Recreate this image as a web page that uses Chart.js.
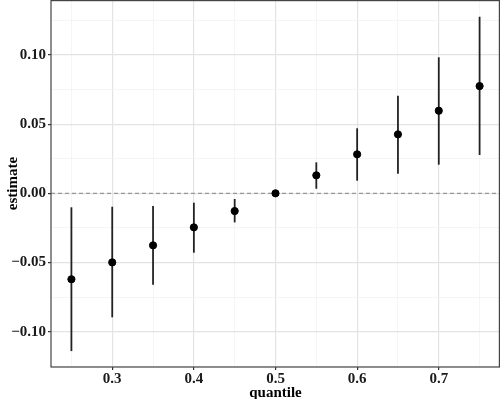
<!DOCTYPE html>
<html>
<head>
<meta charset="utf-8">
<script src="https://cdn.jsdelivr.net/npm/chart.js@4"></script>
<style>
  body { margin: 0; background: #fff; }
  #wrap { width: 500px; height: 399px; }
</style>
</head>
<body>
<div id="wrap"><canvas id="myChart"></canvas></div>
<script>
// quantile regression estimates
const quantiles = [0.25, 0.30, 0.35, 0.40, 0.45, 0.50, 0.55, 0.60, 0.65, 0.70, 0.75];
const estimates = [-0.0621, -0.0499, -0.0376, -0.0246, -0.0128, 0.0, 0.0130, 0.0282, 0.0426, 0.0597, 0.0775];
const lower = [-0.1140, -0.0896, -0.0660, -0.0429, -0.0210, 0.0, 0.0033, 0.0091, 0.0142, 0.0207, 0.0277];
const upper = [-0.0101, -0.0097, -0.0092, -0.0068, -0.0041, 0.0, 0.0224, 0.0470, 0.0705, 0.0983, 0.1276];

const xMajor = [0.3, 0.4, 0.5, 0.6, 0.7];
const xMinor = [0.25, 0.35, 0.45, 0.55, 0.65, 0.75];
const yMajor = [-0.10, -0.05, 0.00, 0.05, 0.10];
const yMinor = [-0.125, -0.075, -0.025, 0.025, 0.075, 0.125];

const FONT = "'Liberation Serif', 'Times New Roman', serif";

function isMajor(list, v) {
  return list.some(m => Math.abs(m - v) < 1e-9);
}

function fmt(v, digits) {
  const s = Math.abs(v).toFixed(digits);
  return v < -1e-9 ? '\u2212' + s : s;
}

// error bars, zero line and panel border
const extras = {
  id: 'extras',
  beforeDatasetsDraw(chart) {
    const ctx = chart.ctx;
    const xs = chart.scales.x, ys = chart.scales.y;
    const a = chart.chartArea;
    ctx.save();
    // dashed zero line
    ctx.strokeStyle = '#999999';
    ctx.lineWidth = 1.2;
    ctx.setLineDash([4, 3]);
    const y0 = ys.getPixelForValue(0);
    ctx.beginPath();
    ctx.moveTo(a.left, y0);
    ctx.lineTo(a.right, y0);
    ctx.stroke();
    ctx.setLineDash([]);
    // error bars
    ctx.strokeStyle = '#222222';
    ctx.lineWidth = 1.8;
    quantiles.forEach((q, i) => {
      if (upper[i] === lower[i]) return;
      const px = xs.getPixelForValue(q);
      ctx.beginPath();
      ctx.moveTo(px, ys.getPixelForValue(lower[i]));
      ctx.lineTo(px, ys.getPixelForValue(upper[i]));
      ctx.stroke();
    });
    ctx.restore();
  },
  afterDraw(chart) {
    const ctx = chart.ctx;
    const a = chart.chartArea;
    ctx.save();
    ctx.strokeStyle = '#444444';
    ctx.lineWidth = 1.2;
    ctx.strokeRect(a.left, a.top + 0.6, a.right - a.left - 0.6, a.bottom - a.top - 0.6);
    ctx.restore();
  }
};

function initChart(target) {
  return new Chart(target, {
    type: 'scatter',
    data: {
      datasets: [{
        data: quantiles.map((q, i) => ({ x: q, y: estimates[i] })),
        backgroundColor: '#000000',
        borderColor: '#000000',
        pointRadius: 3.6,
        pointHoverRadius: 3.6
      }]
    },
    options: {
      responsive: true,
      maintainAspectRatio: false,
      animation: false,
      layout: { autoPadding: false, padding: 0 },
      plugins: { legend: { display: false }, tooltip: { enabled: false } },
      scales: {
        x: {
          type: 'linear',
          min: 0.225,
          max: 0.775,
          afterBuildTicks: s => { s.ticks = xMajor.concat(xMinor).sort((p, q) => p - q).map(v => ({ value: v })); },
          afterFit: s => { s.height = 32; s.paddingLeft = 0; s.paddingRight = 0; },
          border: { display: false },
          grid: {
            color: c => isMajor(xMajor, c.tick.value) ? '#e3e3e3' : '#f2f2f2',
            lineWidth: c => isMajor(xMajor, c.tick.value) ? 1.2 : 0.8,
            tickColor: c => isMajor(xMajor, c.tick.value) ? '#333333' : 'rgba(0,0,0,0)',
            tickLength: 3
          },
          ticks: {
            autoSkip: false,
            maxRotation: 0,
            padding: 0,
            color: '#1a1a1a',
            font: { family: FONT, size: 15, weight: 'bold' },
            callback: v => isMajor(xMajor, v) ? fmt(v, 1) : ''
          },
          title: {
            display: true,
            text: 'quantile',
            color: '#000000',
            padding: { top: 0, bottom: -3 },
            font: { family: FONT, size: 15, weight: 'bold' }
          }
        },
        y: {
          type: 'linear',
          min: -0.1255,
          max: 0.1397,
          afterBuildTicks: s => { s.ticks = yMajor.concat(yMinor).sort((p, q) => p - q).map(v => ({ value: v })); },
          afterFit: s => { s.width = 51; s.paddingTop = 0; s.paddingBottom = 0; },
          border: { display: false },
          grid: {
            color: c => isMajor(yMajor, c.tick.value) ? '#e3e3e3' : '#f2f2f2',
            lineWidth: c => isMajor(yMajor, c.tick.value) ? 1.2 : 0.8,
            tickColor: c => isMajor(yMajor, c.tick.value) ? '#333333' : 'rgba(0,0,0,0)',
            tickLength: 3
          },
          ticks: {
            autoSkip: false,
            padding: 2,
            color: '#1a1a1a',
            font: { family: FONT, size: 15, weight: 'bold' },
            callback: v => isMajor(yMajor, v) ? fmt(v, 2) : ''
          },
          title: {
            display: true,
            text: 'estimate',
            color: '#000000',
            padding: { top: 4, bottom: 0 },
            font: { family: FONT, size: 15, weight: 'bold' }
          }
        }
      }
    },
    plugins: [extras]
  });
}

document.addEventListener('DOMContentLoaded', () => {
  initChart(document.querySelector('#myChart'));
});
</script>
</body>
</html>
